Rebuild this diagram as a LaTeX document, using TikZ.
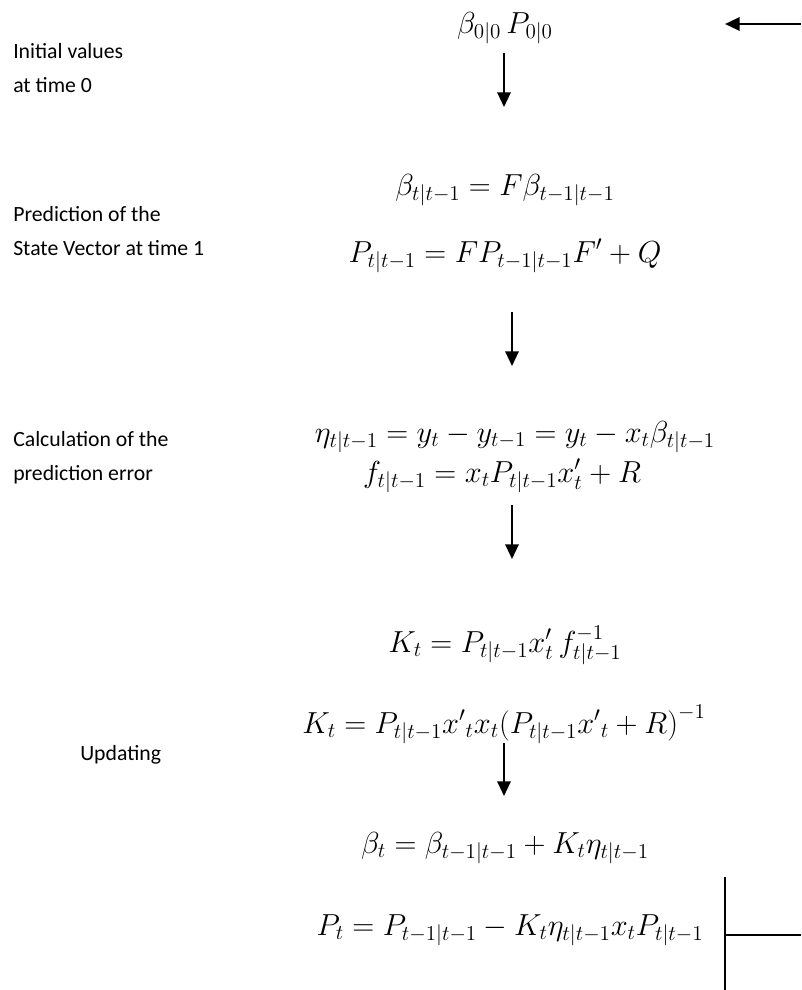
\documentclass[tikz,border=0pt]{standalone}
\usepackage{fontspec}
\setmainfont{Carlito}
\usetikzlibrary{arrows.meta}
\tikzset{
  lbl/.style={anchor=north west, align=left, inner sep=0pt,
    font=\fontsize{16.3}{25.5}\selectfont},
  eqn/.style={anchor=base, inner sep=0pt, font=\huge,
    scale=1.1, transform shape},
  arrow/.style={-{Triangle[length=11pt,width=10pt]}, line width=1.6pt},
  wire/.style={line width=1.6pt},
}

\begin{document}
\begin{tikzpicture}[x=0.75pt, y=-0.75pt]
  \useasboundingbox (0,0) rectangle (801,990);

  % initial values
  \node[lbl] (lInit) at (13,43) {Initial values\\at time 0};
  \node[eqn] (init) at (505,33) {$\beta_{0|0}\,P_{0|0}$};
  \coordinate (back) at (801,24);
  \draw[arrow] (back) -- ++(-76,0);

  % prediction
  \node[lbl] (lPred) at (13,206) {Prediction of the\\State Vector at time 1};
  \node[eqn] (predB) at (505,195) {$\beta_{t|t-1}=F\beta_{t-1|t-1}$};
  \node[eqn] (predP) at (505,262) {$P_{t|t-1}=FP_{t-1|t-1}F'+Q$};

  % prediction error
  \node[lbl] (lErr) at (13,431) {Calculation of the\\prediction error};
  \node[eqn] (err) at (515,442) {$\eta_{t|t-1}=y_t-y_{t-1}=y_t-x_t\beta_{t|t-1}$};
  \node[eqn] (ferr) at (502,482) {$f_{t|t-1}=x_tP_{t|t-1}x_t'+R$};

  % updating
  \node[lbl] (lUpd) at (80,745) {Updating};
  \node[eqn] (gain) at (505,652) {$K_t=P_{t|t-1}x_t'\,f_{t|t-1}^{-1}$};
  \node[eqn] (gain2) at (504,733)
    {$K_t=P_{t|t-1}{x'}_tx_t\bigl(P_{t|t-1}{x'}_t+R\bigr)^{-1}$};
  \node[eqn] (updB) at (505,853) {$\beta_t=\beta_{t-1|t-1}+K_t\eta_{t|t-1}$};
  \node[eqn] (updP) at (510,935) {$P_t=P_{t-1|t-1}-K_t\eta_{t|t-1}x_tP_{t|t-1}$};

  % arrows down
  \draw[arrow] (504,53) -- (504,107);
  \draw[arrow] (512,312) -- (512,366);
  \draw[arrow] (512,505) -- (512,559);
  \draw[arrow] (504,743) -- (504,796);

  % loop back
  \draw[wire] (725,877) -- (725,990);
  \draw[wire] (725,935) -- (801,935);
\end{tikzpicture}
\end{document}
